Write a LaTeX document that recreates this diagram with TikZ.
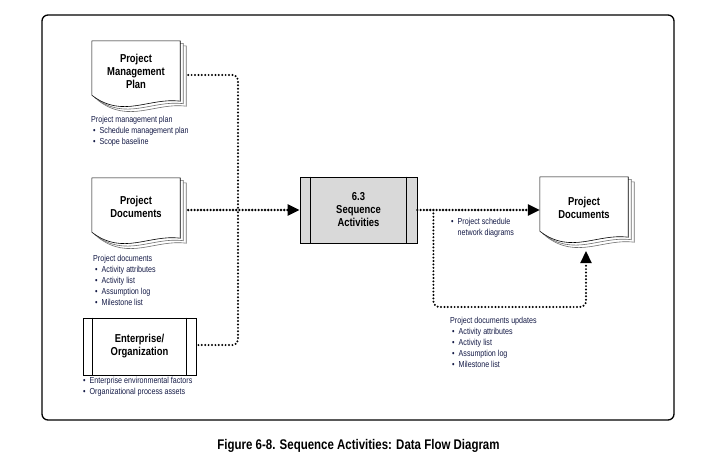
\documentclass[tikz,border=0pt]{standalone}
\usepackage{fontspec}
\setmainfont{Liberation Sans}[FakeStretch=0.82]
\usetikzlibrary{arrows.meta,calc}
\definecolor{labelblue}{RGB}{20,26,70}
\definecolor{procgray}{RGB}{217,217,217}
\definecolor{pagegray}{RGB}{110,110,110}
\newcommand\docpages[1]{%
  \foreach \k/\col in {2/pagegray,1/pagegray,0/black}{%
    \filldraw[fill=white,draw=\col,line width=0.6pt]
      ($(#1.south east)+(3*\k,2.5*\k+6)$) -- ($(#1.north east)+(3*\k,2.5*\k)$)
      -- ($(#1.north west)+(3*\k,2.5*\k)$) -- ($(#1.south west)+(3*\k,2.5*\k)$)
      .. controls ($(#1.south west)+(3*\k+31,2.5*\k+24)$) and ($(#1.south west)+(3*\k+57,2.5*\k+2)$)
      .. ($(#1.south east)+(3*\k,2.5*\k+6)$) -- cycle;
  }%
}
\begin{document}
\begin{tikzpicture}[x=1pt,y=-1pt,
  nodefont/.style={font=\fontsize{11.5}{13}\selectfont\bfseries},
  docnode/.style={nodefont,minimum width=88pt,minimum height=54pt,inner sep=0pt,align=center},
  procbox/.style={nodefont,draw,line width=0.8pt,fill=procgray,minimum width=117pt,minimum height=66pt,inner sep=0pt,align=center},
  entbox/.style={nodefont,draw,line width=0.8pt,fill=white,minimum width=113pt,minimum height=57pt,inner sep=0pt,align=center},
  lbl/.style={font=\fontsize{8.7}{10.9}\selectfont,text=labelblue,align=left,anchor=north west,inner sep=0pt},
  dotline/.style={line width=2.2pt,dash pattern=on 0pt off 3.4pt,line cap=round},
  dotmain/.style={line width=2.6pt,dash pattern=on 0pt off 3.2pt,line cap=round},
  tip/.style={-{Triangle[length=12pt,width=11pt]}}
]
\useasboundingbox (0,0) rectangle (713,471);
\draw[line width=1.3pt,rounded corners=6pt] (42,15) rectangle (674,420);

% documents
\node[docnode] (pmp) at (136,68) {};
\docpages{pmp}
\node[docnode] at ($(pmp)+(0,3.5)$) {Project\\Management\\Plan};

\node[docnode] (pd) at (136,205) {};
\docpages{pd}
\node[docnode] at ($(pd)+(0,2)$) {Project\\Documents};

\node[docnode] (out) at (584,204) {};
\docpages{out}
\node[docnode] at ($(out)+(0,3.5)$) {Project\\Documents};

% process
\node[procbox] (proc) at (358.5,210) {6.3\\Sequence\\Activities};
\draw[line width=0.8pt] ([xshift=11pt]proc.north west) -- ([xshift=11pt]proc.south west);
\draw[line width=0.8pt] ([xshift=-11pt]proc.north east) -- ([xshift=-11pt]proc.south east);

% enterprise
\node[entbox] (ent) at (139.5,346.5) {Enterprise/\\Organization};
\draw[line width=0.8pt] ([xshift=10pt]ent.north west) -- ([xshift=10pt]ent.south west);
\draw[line width=0.8pt] ([xshift=-10pt]ent.north east) -- ([xshift=-10pt]ent.south east);

% labels
\node[lbl] (pmpl) at (91,116) {Project management plan\\
\hspace*{2pt}\textbullet\hspace{4pt}Schedule management plan\\
\hspace*{2pt}\textbullet\hspace{4pt}Scope baseline};
\node[lbl] (pdl) at (93,255) {Project documents\\
\hspace*{2pt}\textbullet\hspace{4pt}Activity attributes\\
\hspace*{2pt}\textbullet\hspace{4pt}Activity list\\
\hspace*{2pt}\textbullet\hspace{4pt}Assumption log\\
\hspace*{2pt}\textbullet\hspace{4pt}Milestone list};
\node[lbl] (entl) at (83,377) {\textbullet\hspace{4pt}Enterprise environmental factors\\
\textbullet\hspace{4pt}Organizational process assets};
\node[lbl] (outl) at (451,218) {\textbullet\hspace{4pt}Project schedule\\
\hphantom{\textbullet\hspace{4pt}}network diagrams};
\node[lbl] (updl) at (450,317) {Project documents updates\\
\hspace*{2pt}\textbullet\hspace{4pt}Activity attributes\\
\hspace*{2pt}\textbullet\hspace{4pt}Activity list\\
\hspace*{2pt}\textbullet\hspace{4pt}Assumption log\\
\hspace*{2pt}\textbullet\hspace{4pt}Milestone list};

% connectors
\coordinate (j) at (238,210);
\coordinate (sp) at ($(proc.east)+(16,0)$);
\coordinate (ob) at (586,251);
\draw[dotline,rounded corners=5pt] ($(pmp.east)+(8,7)$) -| (j);
\draw[dotline,rounded corners=5pt] ($(ent.east)+(2,-1.5)$) -| (j);
\draw[dotmain,tip] ($(pd.east |- proc.west)+(8,0)$) -- (proc.west);
\draw[dotmain,tip] (proc.east) -- (proc.east -| out.west);
\draw[dotline,tip,rounded corners=6pt] (sp) -- ++(0,97) -| (ob);

% caption
\node[font=\fontsize{14}{16}\selectfont\bfseries] (cap) at (358.5,446) {Figure 6-8. Sequence Activities: Data Flow Diagram};
\end{tikzpicture}
\end{document}
